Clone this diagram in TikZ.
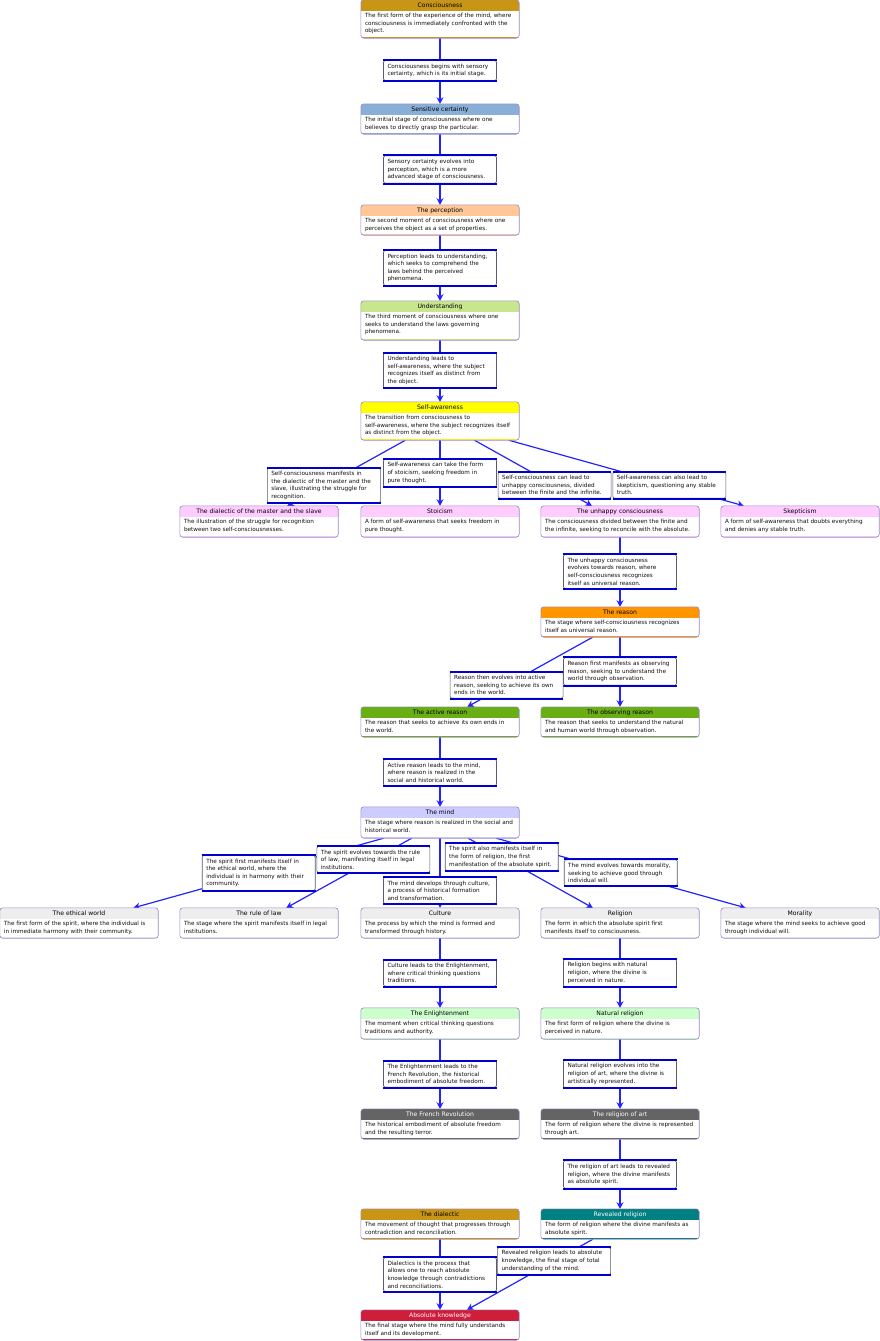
\documentclass[tikz,border=0pt]{standalone}
\usepackage{fontspec}
\setmainfont{DejaVu Sans}
\usetikzlibrary{arrows.meta,backgrounds,calc}
\definecolor{linkblue}{RGB}{35,35,255}
\definecolor{barblue}{RGB}{0,0,210}
\definecolor{labgray}{RGB}{90,90,110}
\definecolor{stborder}{RGB}{155,135,195}
\definecolor{cGold}{RGB}{200,150,20}
\definecolor{cSteel}{RGB}{135,175,215}
\definecolor{cPeach}{RGB}{255,200,150}
\definecolor{cLime}{RGB}{200,230,140}
\definecolor{cYellow}{RGB}{255,255,0}
\definecolor{cPink}{RGB}{255,204,255}
\definecolor{cOrange}{RGB}{255,150,0}
\definecolor{cGreen}{RGB}{105,175,20}
\definecolor{cLav}{RGB}{204,204,255}
\definecolor{cLight}{RGB}{238,238,238}
\definecolor{cMint}{RGB}{204,255,204}
\definecolor{cDark}{RGB}{100,100,100}
\definecolor{cTeal}{RGB}{0,128,128}
\definecolor{cCrimson}{RGB}{205,30,60}
\definecolor{tDark}{RGB}{15,15,15}
\newcommand\stbodyfont{\fontsize{5.7}{7.5}\selectfont}
\newcommand\labfont{\fontsize{5.7}{7.6}\selectfont}
\newcommand\titfont{\fontsize{6.1}{7}\selectfont}
\newcommand\Stage[8]{%
 \pgfmathsetmacro\stcx{#2+79}%
 \pgfmathsetmacro\stcy{-(#3+#4)/2}%
 \pgfmathsetmacro\sth{#4-#3}%
 \node[stagebox, minimum height=\sth pt] (#1) at (\stcx,\stcy) {};
 \begin{scope}
  \clip[rounded corners=3pt] (#1.south west) rectangle (#1.north east);
  \fill[#5] (#1.north west) rectangle ([yshift=-11pt]#1.north east);
  \fill[#5] (#1.south west) rectangle ([yshift=1.6pt]#1.south east);
 \end{scope}
 \draw[stageborder, rounded corners=3pt] (#1.south west) rectangle (#1.north east);
 \node[stagetitle, text=#6] (#1-t) at ([yshift=-5.8pt]#1.north) {#7};
 \node[stagebody, anchor=north west] (#1-b) at ([shift={(4pt,-13.2pt)}]#1.north west) {#8};
}
\newcommand\Lab[3]{\node[labbox] (#1) at (#2) {#3};}
\begin{document}
\begin{tikzpicture}[x=1pt,y=1pt,
 stagebox/.style={fill=white, minimum width=158pt, inner sep=0pt, rounded corners=3pt},
 stageborder/.style={draw=stborder, line width=0.6pt},
 stagetitle/.style={inner sep=0pt, font=\titfont},
 stagebody/.style={inner sep=0pt, align=left, font=\stbodyfont, text=tDark},
 bluebar/.style={draw=barblue, line width=2pt, rounded corners=0pt},
 labbox/.style={draw=labgray, fill=white, line width=0.6pt, rounded corners=1.5pt,
   text width=105pt, inner xsep=4pt, inner ysep=3.4pt, align=left, font=\labfont, text=tDark,
   append after command={(\tikzlastnode.north west) edge[bluebar] (\tikzlastnode.north east)
     (\tikzlastnode.south west) edge[bluebar] (\tikzlastnode.south east)}},
 conn/.style={draw=linkblue, line width=1.2pt},
 arr/.style={conn, -{Stealth[length=6.5pt,width=7pt,inset=2pt]}}
]
\useasboundingbox (0,0) rectangle (880,-1341);

\Stage{consc}{361}{0}{38}{cGold}{black}{Consciousness}{The first form of the experience of the mind, where\\consciousness is immediately confronted with the\\object.}
\Stage{sens}{361}{104}{134}{cSteel}{black}{Sensitive certainty}{The initial stage of consciousness where one\\believes to directly grasp the particular.}
\Stage{perc}{361}{205}{235}{cPeach}{black}{The perception}{The second moment of consciousness where one\\perceives the object as a set of properties.}
\Stage{under}{361}{301}{340}{cLime}{black}{Understanding}{The third moment of consciousness where one\\seeks to understand the laws governing\\phenomena.}
\Stage{selfaw}{361}{402}{440}{cYellow}{black}{Self-awareness}{The transition from consciousness to\\self-awareness, where the subject recognizes itself\\as distinct from the object.}
\Stage{master}{180}{506}{537}{cPink}{black}{The dialectic of the master and the slave}{The illustration of the struggle for recognition\\between two self-consciousnesses.}
\Stage{stoic}{361}{506}{537}{cPink}{black}{Stoicism}{A form of self-awareness that seeks freedom in\\pure thought.}
\Stage{unhappy}{541}{506}{537}{cPink}{black}{The unhappy consciousness}{The consciousness divided between the finite and\\the infinite, seeking to reconcile with the absolute.}
\Stage{skept}{721}{506}{537}{cPink}{black}{Skepticism}{A form of self-awareness that doubts everything\\and denies any stable truth.}
\Stage{reason}{541}{607}{637}{cOrange}{black}{The reason}{The stage where self-consciousness recognizes\\itself as universal reason.}
\Stage{active}{361}{707}{737}{cGreen}{black}{The active reason}{The reason that seeks to achieve its own ends in\\the world.}
\Stage{observ}{541}{707}{737}{cGreen}{black}{The observing reason}{The reason that seeks to understand the natural\\and human world through observation.}
\Stage{mind}{361}{807}{838}{cLav}{black}{The mind}{The stage where reason is realized in the social and\\historical world.}
\Stage{ethical}{0}{908}{938}{cLight}{black}{The ethical world}{The first form of the spirit, where the individual is\\in immediate harmony with their community.}
\Stage{rule}{180}{908}{938}{cLight}{black}{The rule of law}{The stage where the spirit manifests itself in legal\\institutions.}
\Stage{culture}{361}{908}{938}{cLight}{black}{Culture}{The process by which the mind is formed and\\transformed through history.}
\Stage{religion}{541}{908}{938}{cLight}{black}{Religion}{The form in which the absolute spirit first\\manifests itself to consciousness.}
\Stage{moral}{721}{908}{938}{cLight}{black}{Morality}{The stage where the mind seeks to achieve good\\through individual will.}
\Stage{enlight}{361}{1008}{1039}{cMint}{black}{The Enlightenment}{The moment when critical thinking questions\\traditions and authority.}
\Stage{natural}{541}{1008}{1039}{cMint}{black}{Natural religion}{The first form of religion where the divine is\\perceived in nature.}
\Stage{french}{361}{1109}{1139}{cDark}{white}{The French Revolution}{The historical embodiment of absolute freedom\\and the resulting terror.}
\Stage{art}{541}{1109}{1139}{cDark}{white}{The religion of art}{The form of religion where the divine is represented\\through art.}
\Stage{dialectic}{361}{1209}{1239}{cGold}{black}{The dialectic}{The movement of thought that progresses through\\contradiction and reconciliation.}
\Stage{revealed}{541}{1209}{1239}{cTeal}{white}{Revealed religion}{The form of religion where the divine manifests as\\absolute spirit.}
\Stage{absolute}{361}{1310}{1340}{cCrimson}{white}{Absolute knowledge}{The final stage where the mind fully understands\\itself and its development.}

\Lab{L1}{440,-70.5}{Consciousness begins with sensory\\certainty, which is its initial stage.}
\Lab{L2}{440,-169.5}{Sensory certainty evolves into\\perception, which is a more\\advanced stage of consciousness.}
\Lab{L3}{440,-268}{Perception leads to understanding,\\which seeks to comprehend the\\laws behind the perceived\\phenomena.}
\Lab{L4}{440,-370.5}{Understanding leads to\\self-awareness, where the subject\\recognizes itself as distinct from\\the object.}
\Lab{Lms}{$(selfaw)!0.642!(master)$}{Self-consciousness manifests in\\the dialectic of the master and the\\slave, illustrating the struggle for\\recognition.}
\Lab{Lst}{440,-473}{Self-awareness can take the form\\of stoicism, seeking freedom in\\pure thought.}
\Lab{Lun}{$(selfaw)!0.637!(unhappy)$}{Self-consciousness can lead to\\unhappy consciousness, divided\\between the finite and the infinite.}
\Lab{Lsk}{$(selfaw)!0.637!(skept)$}{Self-awareness can also lead to\\skepticism, questioning any stable\\truth.}
\Lab{Lur}{620,-571.5}{The unhappy consciousness\\evolves towards reason, where\\self-consciousness recognizes\\itself as universal reason.}
\Lab{Lro}{620,-671.5}{Reason first manifests as observing\\reason, seeking to understand the\\world through observation.}
\Lab{Lra}{$(reason)!0.63!(active)$}{Reason then evolves into active\\reason, seeking to achieve its own\\ends in the world.}
\Lab{Lam}{440,-772.5}{Active reason leads to the mind,\\where reason is realized in the\\social and historical world.}
\Lab{Lel}{$(mind)!0.502!(ethical)$}{The spirit first manifests itself in\\the ethical world, where the\\individual is in harmony with their\\community.}
\Lab{Lrl}{$(mind)!0.368!(rule)$}{The spirit evolves towards the rule\\of law, manifesting itself in legal\\institutions.}
\Lab{Lcu}{440,-890.5}{The mind develops through culture,\\a process of historical formation\\and transformation.}
\Lab{Lre}{$(mind)!0.343!(religion)$}{The spirit also manifests itself in\\the form of religion, the first\\manifestation of the absolute spirit.}
\Lab{Lmo}{$(mind)!0.502!(moral)$}{The mind evolves towards morality,\\seeking to achieve good through\\individual will.}
\Lab{Lce}{440,-973}{Culture leads to the Enlightenment,\\where critical thinking questions\\traditions.}
\Lab{Lrn}{620,-973}{Religion begins with natural\\religion, where the divine is\\perceived in nature.}
\Lab{Lef}{440,-1074}{The Enlightenment leads to the\\French Revolution, the historical\\embodiment of absolute freedom.}
\Lab{Lna}{620,-1074}{Natural religion evolves into the\\religion of art, where the divine is\\artistically represented.}
\Lab{Lar}{620,-1174.5}{The religion of art leads to revealed\\religion, where the divine manifests\\as absolute spirit.}
\Lab{Lrv}{$(revealed)!0.366!(absolute)$}{Revealed religion leads to absolute\\knowledge, the final stage of total\\understanding of the mind.}
\Lab{Ldi}{440,-1274.5}{Dialectics is the process that\\allows one to reach absolute\\knowledge through contradictions\\and reconciliations.}

\begin{pgfonlayer}{background}
\draw[conn] (consc) -- (L1); \draw[arr] (L1) -- (sens);
\draw[conn] (sens) -- (L2); \draw[arr] (L2) -- (perc);
\draw[conn] (perc) -- (L3); \draw[arr] (L3) -- (under);
\draw[conn] (under) -- (L4); \draw[arr] (L4) -- (selfaw);
\draw[conn] (selfaw) -- (Lms); \draw[arr] (Lms) -- (master);
\draw[conn] (selfaw) -- (Lst); \draw[arr] (Lst) -- (stoic);
\draw[conn] (selfaw) -- (Lun); \draw[arr] (Lun) -- (unhappy);
\draw[conn] (selfaw) -- (Lsk); \draw[arr] (Lsk) -- (skept);
\draw[conn] (unhappy) -- (Lur); \draw[arr] (Lur) -- (reason);
\draw[conn] (reason) -- (Lro); \draw[arr] (Lro) -- (observ);
\draw[conn] (reason) -- (Lra); \draw[arr] (Lra) -- (active);
\draw[conn] (active) -- (Lam); \draw[arr] (Lam) -- (mind);
\draw[conn] (mind) -- (Lel); \draw[arr] (Lel) -- (ethical);
\draw[conn] (mind) -- (Lrl); \draw[arr] (Lrl) -- (rule);
\draw[conn] (mind) -- (Lcu); \draw[arr] (Lcu) -- (culture);
\draw[conn] (mind) -- (Lre); \draw[arr] (Lre) -- (religion);
\draw[conn] (mind) -- (Lmo); \draw[arr] (Lmo) -- (moral);
\draw[conn] (culture) -- (Lce); \draw[arr] (Lce) -- (enlight);
\draw[conn] (religion) -- (Lrn); \draw[arr] (Lrn) -- (natural);
\draw[conn] (enlight) -- (Lef); \draw[arr] (Lef) -- (french);
\draw[conn] (natural) -- (Lna); \draw[arr] (Lna) -- (art);
\draw[conn] (art) -- (Lar); \draw[arr] (Lar) -- (revealed);
\draw[conn] (revealed) -- (Lrv); \draw[arr] (Lrv) -- (absolute);
\draw[conn] (dialectic) -- (Ldi); \draw[arr] (Ldi) -- (absolute);
\end{pgfonlayer}
\end{tikzpicture}
\end{document}
